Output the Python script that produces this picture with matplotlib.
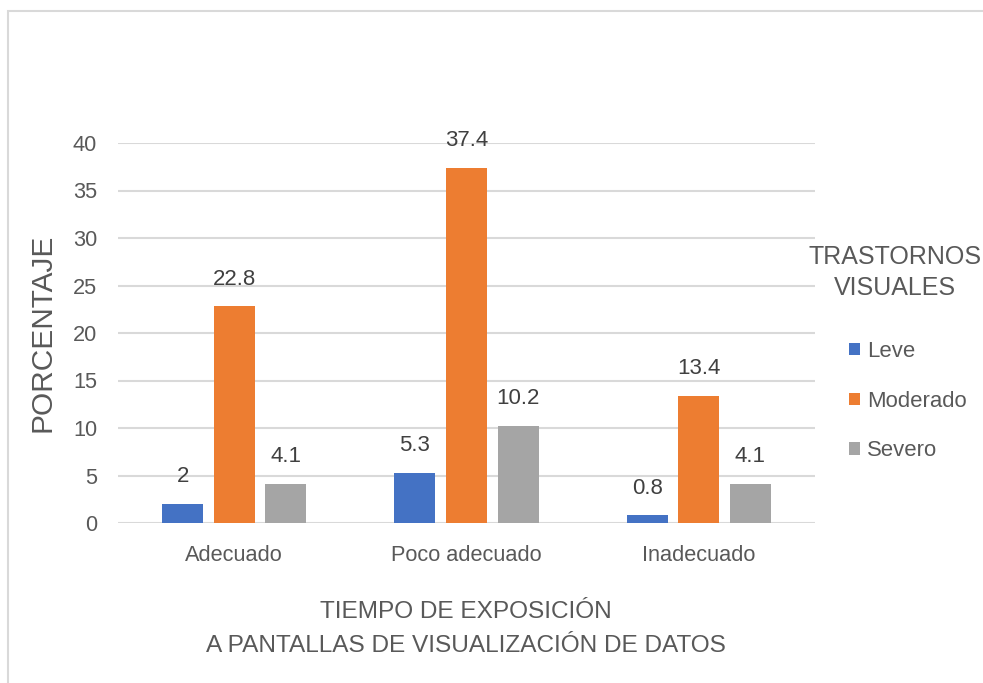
"""Grouped bar chart: visual disorders by screen exposure time."""

import matplotlib.pyplot as plt
import numpy as np
from matplotlib.patches import Rectangle

plt.rcParams["font.family"] = ["Liberation Sans", "DejaVu Sans"]

categories = ["Adecuado", "Poco adecuado", "Inadecuado"]
series_names = ["Leve", "Moderado", "Severo"]
leve = [2, 5.3, 0.8]
moderado = [22.8, 37.4, 13.4]
severo = [4.1, 10.2, 4.1]
y_ticks = [0, 5, 10, 15, 20, 25, 30, 35, 40]

COLORS = ["#4472C4", "#ED7D31", "#A5A5A5"]
TEXT = "#595959"
GRID = "#D9D9D9"

W, H = 983, 683
fig = plt.figure(figsize=(W / 100, H / 100), dpi=100)
ax = fig.add_axes([118 / W, 1 - 523 / H, (815 - 118) / W, (523 - 143) / H])

# outer chart frame
fig.patches.append(Rectangle((8 / W, -0.01), 1.2, 1 - 11 / H + 0.01,
                             transform=fig.transFigure, fill=False,
                             edgecolor=GRID, linewidth=1.5))

x = np.arange(len(categories))
width = 0.177
step = 0.222
bars = []
for i, (name, vals) in enumerate(zip(series_names, [leve, moderado, severo])):
    b = ax.bar(x + (i - 1) * step, vals, width, color=COLORS[i], label=name, zorder=3)
    bars.append(b)
    for xi, v in zip(x + (i - 1) * step, vals):
        ax.annotate(f"{v:g}", (xi, v), xytext=(0, 12), textcoords="offset points",
                    ha="center", va="bottom", fontsize=16, color="#404040")

ax.set_xlim(-0.5, 2.5)
ax.set_ylim(0, 40)
ax.set_yticks(y_ticks)
ax.set_xticks(x)
ax.set_xticklabels(categories, fontsize=15.7, color=TEXT)
ax.tick_params(axis="y", labelsize=15.7, labelcolor=TEXT, length=0, pad=15)
ax.tick_params(axis="x", length=0, pad=16)
ax.yaxis.grid(True, color=GRID, linewidth=1.5, zorder=0)
for s in ax.spines.values():
    s.set_visible(False)

ax.set_ylabel("PORCENTAJE", fontsize=21.5, color=TEXT)
ax.yaxis.set_label_coords((57 - 118) / 697, 0.5)
fig.text(466 / W, 1 - 629 / H,
         "TIEMPO DE EXPOSICIÓN\nA PANTALLAS DE VISUALIZACIÓN DE DATOS",
         ha="center", va="center", fontsize=17.6, color=TEXT, linespacing=1.65)

# legend: title as separate text, entries below
fig.text(895 / W, 1 - 272.5 / H, "TRASTORNOS\nVISUALES", ha="center", va="center",
         fontsize=18, color=TEXT, linespacing=1.4)
fig.legend(handles=bars, labels=series_names, loc="upper left",
           bbox_to_anchor=(849 / W, 1 - 341 / H), frameon=False,
           fontsize=15.9, labelcolor=TEXT, borderpad=0, borderaxespad=0,
           handlelength=0.5, handleheight=0.5, handletextpad=0.3,
           labelspacing=1.3)

fig.savefig("out.png", dpi=100)
